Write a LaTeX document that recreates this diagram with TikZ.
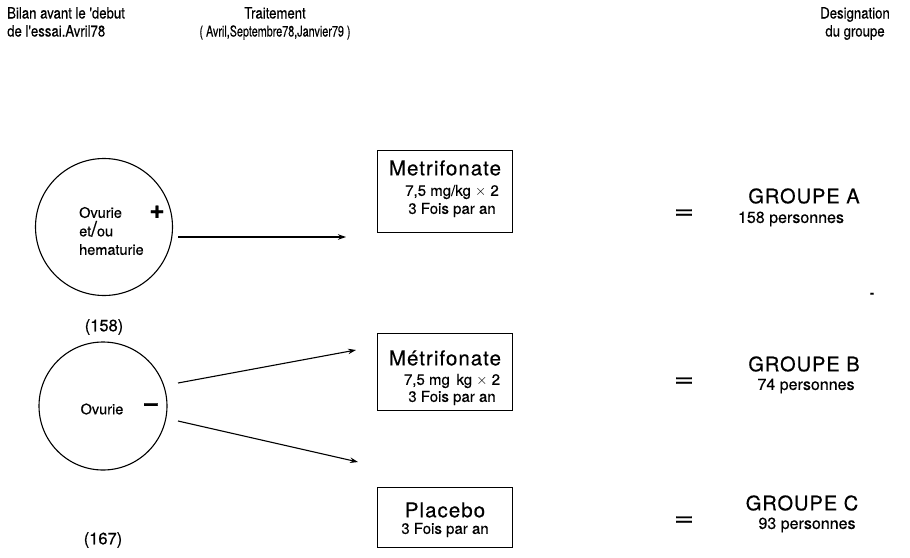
\documentclass[tikz,border=0pt]{standalone}
\usepackage{fontspec}
\usepackage{graphicx}
\setmainfont[FakeBold=0.4]{TeX Gyre Heros}
\newfontfamily\hdr[FakeStretch=0.85,FakeBold=0.4]{TeX Gyre Heros}
\newfontfamily\hdrc[FakeStretch=0.72,FakeBold=0.4]{TeX Gyre Heros}
\newfontfamily\spaced[LetterSpace=5,FakeBold=0.4]{TeX Gyre Heros}
\usetikzlibrary{arrows.meta,calc}
\tikzset{
  hdrtext/.style={font=\hdr\fontsize{15.5}{18}\selectfont, align=center, inner sep=0pt},
  ring/.style={circle, draw, line width=1.1pt, inner sep=0pt},
  tbox/.style={draw, line width=1.2pt, inner sep=0pt, anchor=north west},
  bigtxt/.style={font=\spaced\fontsize{20.5}{20}\selectfont, inner sep=0pt},
  smalltxt/.style={font=\fontsize{15}{15}\selectfont, inner sep=0pt},
  grp/.style={font=\spaced\fontsize{20}{20}\selectfont, inner sep=0pt},
  pers/.style={font=\fontsize{16}{16}\selectfont, inner sep=0pt},
  eqs/.style={font=\fontsize{24}{24}\selectfont, inner sep=0pt},
  arr/.style={line width=1.1pt, -{Stealth[length=8pt,width=5.5pt]}},
  ctext/.style={font=\fontsize{14.5}{18.5}\selectfont, inner sep=0pt},
  num/.style={font=\fontsize{16.5}{16}\selectfont, inner sep=0pt}
}
\begin{document}
\begin{tikzpicture}[x=1pt,y=-1pt]
\useasboundingbox (0,0) rectangle (910,557);
% headers
\node[hdrtext, align=left, anchor=north west] (h1) at (7,7) {Bilan avant le 'debut\\de l'essai.Avril78};
\node[hdrtext, anchor=north] (h2) at (275,7) {Traitement\\{\hdrc\fontsize{15}{18}\selectfont ( Avril,Septembre78,Janvier79 )}};
\node[hdrtext, anchor=north] (h3) at (855,7) {Designation\\du groupe};

% circle 1
\node[ring, minimum size=137pt] (c1) at (104,227) {};
\node[ctext, align=left, anchor=west] (c1t) at (79,231) {Ovurie\\et{\fontsize{21}{21}\selectfont/}ou\\hematurie};
\node[font=\bfseries\fontsize{26}{26}\selectfont, inner sep=0pt] (plus) at (157,212) {+};
\node[num] (n158) at (104,327) {(158)};

% circle 2
\node[ring, minimum size=128pt] (c2) at (103,406) {};
\node[ctext] (c2t) at (102,409) {Ovurie};
\node[font=\bfseries\fontsize{24}{24}\selectfont, inner sep=0pt] (minus) at (151,407) {--};
\node[num] (n167) at (103,540) {(167)};

% boxes
\node[tbox, minimum width=135pt, minimum height=82pt] (b1) at (377,150) {};
\node[bigtxt] (b1a) at (445,168) {Metrifonate};
\node[smalltxt] (b1b) at (452,192) {7,5 mg/kg $\times$ 2};
\node[smalltxt] (b1c) at (452,210) {3 Fois par an};

\node[tbox, minimum width=135pt, minimum height=77pt] (b2) at (377,333) {};
\node[bigtxt] (b2a) at (445,358) {Métrifonate};
\node[smalltxt] (b2b) at (452,381) {7,5 mg\, kg $\times$ 2};
\node[smalltxt] (b2c) at (452,398) {3 Fois par an};

\node[tbox, minimum width=135pt, minimum height=60pt] (b3) at (377,487) {};
\node[bigtxt] (b3a) at (445,510) {Placebo};
\node[smalltxt] (b3b) at (445,530) {3 Fois par an};

% arrows
\coordinate (a1s) at (178,237);
\coordinate (a1e) at (346,237);
\coordinate (a2s) at (178,383);
\coordinate (a2e) at (356,350);
\coordinate (a3s) at (178,421);
\coordinate (a3e) at (358,462);
\draw[arr] (a1s) -- (a1e);
\draw[arr] (a2s) -- (a2e);
\draw[arr] (a3s) -- (a3e);

% equals and groups
\node[eqs] (e1) at (684,214) {\scalebox{1.45}[1]{=}};
\node[grp] (g1) at (804,196) {GROUPE A};
\node[pers] (p1) at (791,219) {158 personnes};

\node[eqs] (e2) at (684,382) {\scalebox{1.45}[1]{=}};
\node[grp] (g2) at (804,364) {GROUPE B};
\node[pers] (p2) at (806,386) {74 personnes};

\node[eqs] (e3) at (684,521) {\scalebox{1.45}[1]{=}};
\node[grp] (g3) at (802,503) {GROUPE C};
\node[pers] (p3) at (807,525) {93 personnes};

% stray dash
\node[font=\bfseries\fontsize{12}{12}\selectfont, inner sep=0pt] (dash) at (872,295) {-};
\end{tikzpicture}
\end{document}
